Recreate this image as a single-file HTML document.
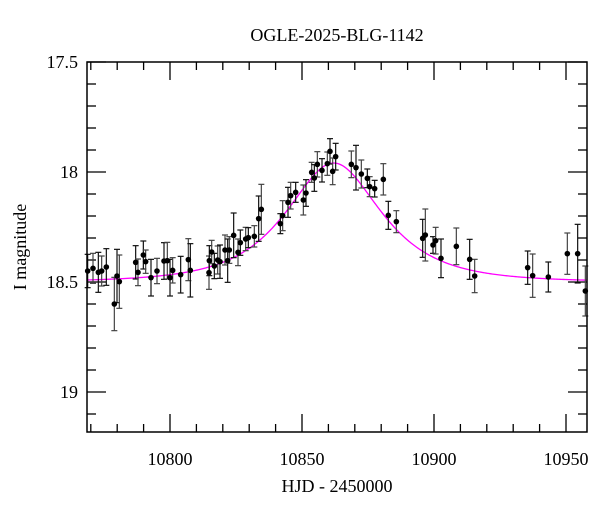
<!DOCTYPE html>
<html><head><meta charset="utf-8"><style>
html,body{margin:0;padding:0;background:#fff;}
svg text{font-family:"Liberation Serif","DejaVu Serif",serif;fill:#000;}
</style></head><body>
<svg id="s" width="600" height="512" xmlns="http://www.w3.org/2000/svg">
<text x="337" y="41" font-size="18" text-anchor="middle">OGLE-2025-BLG-1142</text>
<g id="ticks" stroke="#000" stroke-width="1.3"></g>
<g id="curve"></g>
<g id="data"></g>
<rect x="87" y="62" width="500" height="370" fill="none" stroke="#000" stroke-width="1.5"/>
<g font-size="18" text-anchor="end">
<text x="78" y="68">17.5</text>
<text x="78" y="178">18</text>
<text x="78" y="288">18.5</text>
<text x="78" y="398">19</text>
</g>
<g font-size="18" text-anchor="middle">
<text x="170" y="465">10800</text>
<text x="302" y="465">10850</text>
<text x="434" y="465">10900</text>
<text x="566" y="465">10950</text>
</g>
<text x="337" y="492" font-size="18" text-anchor="middle">HJD - 2450000</text>
<text transform="translate(26,247) rotate(-90)" font-size="18" text-anchor="middle">I magnitude</text>
</svg>
<script>
var NS="http://www.w3.org/2000/svg";
function el(p,t,a){var e=document.createElementNS(NS,t);for(var k in a)e.setAttribute(k,a[k]);p.appendChild(e);return e;}
var tk=document.getElementById("ticks");
for(var d=10770;d<=10958;d+=10){var x=170+(d-10800)*2.64;var maj=(d%50==0);var L=maj?18:8;
el(tk,"line",{x1:x,y1:432,x2:x,y2:432-L});el(tk,"line",{x1:x,y1:62,x2:x,y2:62+L});}
for(var m=17.5;m<=19.18;m+=0.1){var y=62+(m-17.5)*220;var mm=Math.round(m*10);var maj=(mm%5==0);var L=maj?19:9;
el(tk,"line",{x1:87,y1:y,x2:87+L,y2:y});el(tk,"line",{x1:587,y1:y,x2:587-L,y2:y});}
var pts=[];var u0=0.72,tE=26,t0=10862,base=18.50;
for(var px=87;px<=587;px+=1){var t=10800+(px-170)/2.64;var tau=(t-t0)/tE;var u2=u0*u0+tau*tau;var u=Math.sqrt(u2);
var A=(u2+2)/(u*Math.sqrt(u2+4));var mag=base-2.5*Math.log10(A);pts.push(px+","+(62+(mag-17.5)*220).toFixed(2));}
el(document.getElementById("curve"),"polyline",{points:pts.join(" "),fill:"none",stroke:"#f0f","stroke-width":"1.3"});
var z3=[[8,423,50],[24,415,45],[40,427,60],[50,423,45],[64,411,55],[88,522,80],[96,438,80],[103,455,80],[152,397,50],[159,427,40],[175,375,42],[182,395,35],[198,443,55],[216,423,38],[237,393,55],[247,392,55],[255,443,55],[263,421,38],[287,434,55],[310,389,63],[316,421,80],[372,428,50],[373,392,45],[380,366,35],[388,408,38],[398,390,42],[405,395,50],[420,360,45],[428,392,65],[433,360,40],[446,316,67],[459,367,40],[466,338,38],[482,327,35],[490,323,30],[508,319,32],[521,266,68],[529,238,75],[586,281,30],[593,257,45],[609,217,45],[617,197,40],[632,187,30],[655,210,45],[663,189,40],[680,127,30],[688,144,40],[697,103,38],[711,121,35],[727,101,35],[735,64,38],[743,124,40],[752,80,40]];
var z4=[[64,103,40],[78,113,67],[94,132,42],[112,145,28],[119,170,30],[134,176,25],[160,148,47],[175,256,42],[199,275,33],[278,325,57],[286,315,78],[309,345,25],[317,332,40],[333,385,58],[379,349,55],[419,388,60],[434,438,50],[593,413,50],[608,437,65],[655,441,45],[712,371,62],[743,371,88],[766,483,75]];
var P=[];z3.forEach(function(p){P.push([85+p[0]/3,130+p[1]/3,p[2]/3]);});
z4.forEach(function(p){P.push([330+p[0]/3,130+p[1]/3,p[2]/3]);});
var dg=document.getElementById("data");
P.forEach(function(p,i){var x=p[0],y=p[1],e=p[2];var c=(i%2)?"#444":"#111";
el(dg,"line",{x1:x,y1:y-e,x2:x,y2:y+e,stroke:c,"stroke-width":"1.2"});
el(dg,"line",{x1:x-3,y1:y-e,x2:x+3,y2:y-e,stroke:c,"stroke-width":"1.2"});
el(dg,"line",{x1:x-3,y1:y+e,x2:x+3,y2:y+e,stroke:c,"stroke-width":"1.2"});});
P.forEach(function(p){el(dg,"circle",{cx:p[0],cy:p[1],r:2.8,fill:"#000"});});
</script>
</body></html>
